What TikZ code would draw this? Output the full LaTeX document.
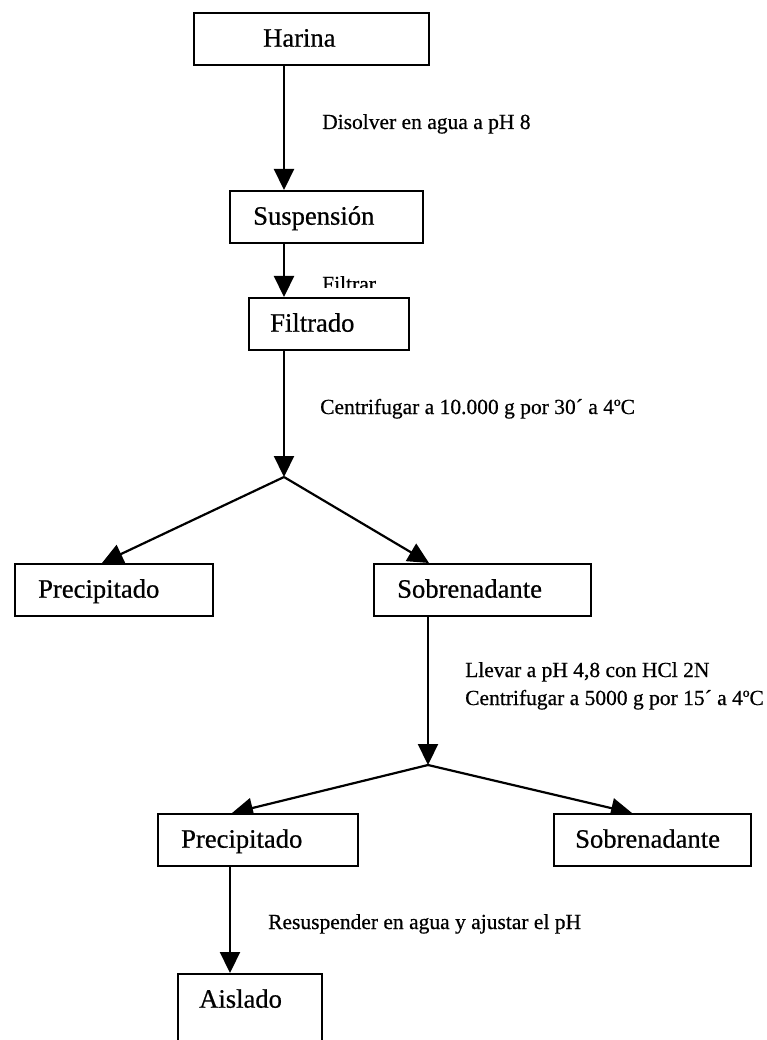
\documentclass[tikz,border=0pt]{standalone}
\usepackage{fontspec}
\setmainfont{Liberation Serif}
% slightly heavier strokes for the printed labels
\newfontfamily\labelfont{Liberation Serif}[FakeBold=0.6]
\usetikzlibrary{arrows.meta,calc,backgrounds}
\begin{document}
\begin{tikzpicture}[x=1pt,y=-1pt,
  stepbox/.style={draw, line width=2.4pt, fill=white, inner xsep=0pt, inner ysep=14pt,
    text height=19.5pt, text depth=4.5pt, align=left, anchor=north west,
    font=\labelfont\fontsize{26.6}{30}\selectfont},
  note/.style={anchor=base west, inner sep=0pt, font=\labelfont\fontsize{21.5}{25}\selectfont},
  flow/.style={line width=2.2pt, -{Triangle[length=21pt,width=20pt]}}]

\useasboundingbox (0,0) rectangle (767,1040);
\clip (0,0) rectangle (767,1040);

% junctions and stem positions
\coordinate (j1) at (284,477);
\coordinate (j2) at (428,765);
\coordinate (x3) at (230,0);

% process steps
\node[stepbox, text width=235pt] (harina)   at (193,12)  {\hspace*{69pt}Harina};
\node[stepbox, text width=193pt] (susp)     at (229,190) {\hspace*{23pt}Suspensión};
\node[stepbox, text width=160pt] (filtrado) at (248,297) {\hspace*{21pt}Filtrado};
\node[stepbox, text width=198pt] (prec1)    at (14,563)  {\hspace*{23pt}Precipitado};
\node[stepbox, text width=217pt] (sobre1)   at (373,563) {\hspace*{23pt}Sobrenadante};
\node[stepbox, text width=200pt] (prec2)    at (157,813) {\hspace*{23pt}Precipitado};
\node[stepbox, text width=197pt] (sobre2)   at (553,813) {\hspace*{21pt}Sobrenadante};
\node[stepbox, text width=144pt, text depth=80pt] (aislado) at (177,973) {\hspace*{21pt}Aislado};

% operations
\node[note] (disolver) at (322,129) {Disolver en agua a pH 8};
\begin{scope}
  \clip (300,250) rectangle (420,288);
  \node[note] (filtrar) at (322,291) {Filtrar};
\end{scope}
\node[note] (centri1) at (320,414) {Centrifugar a 10.000 g por 30´ a 4ºC};
\node[note] (llevar)  at (465,677) {Llevar a pH 4,8 con HCl 2N};
\node[note] (centri2) at (465,705) {Centrifugar a 5000 g por 15´ a 4ºC};
\node[note] (resusp)  at (268,929) {Resuspender en agua y ajustar el pH};

% connectors, kept behind the boxes
\begin{pgfonlayer}{background}
  \draw[flow] (harina.south -| j1) -- (susp.north -| j1);
  \draw[flow] (susp.south -| j1) -- (filtrado.north -| j1);
  \draw[flow] (filtrado.south -| j1) -- (j1);
  \draw[flow] (j1) -- ($(prec1.north west)+(88,0)$);
  \draw[flow] (j1) -- ($(sobre1.north west)+(56,0)$);
  \draw[flow] (sobre1.south -| j2) -- (j2);
  \draw[flow] (j2) -- ($(prec2.north west)+(75,0)$);
  \draw[flow] (j2) -- ($(sobre2.north west)+(79,0)$);
  \draw[flow] (prec2.south -| x3) -- (aislado.north -| x3);
\end{pgfonlayer}
\end{tikzpicture}
\end{document}
